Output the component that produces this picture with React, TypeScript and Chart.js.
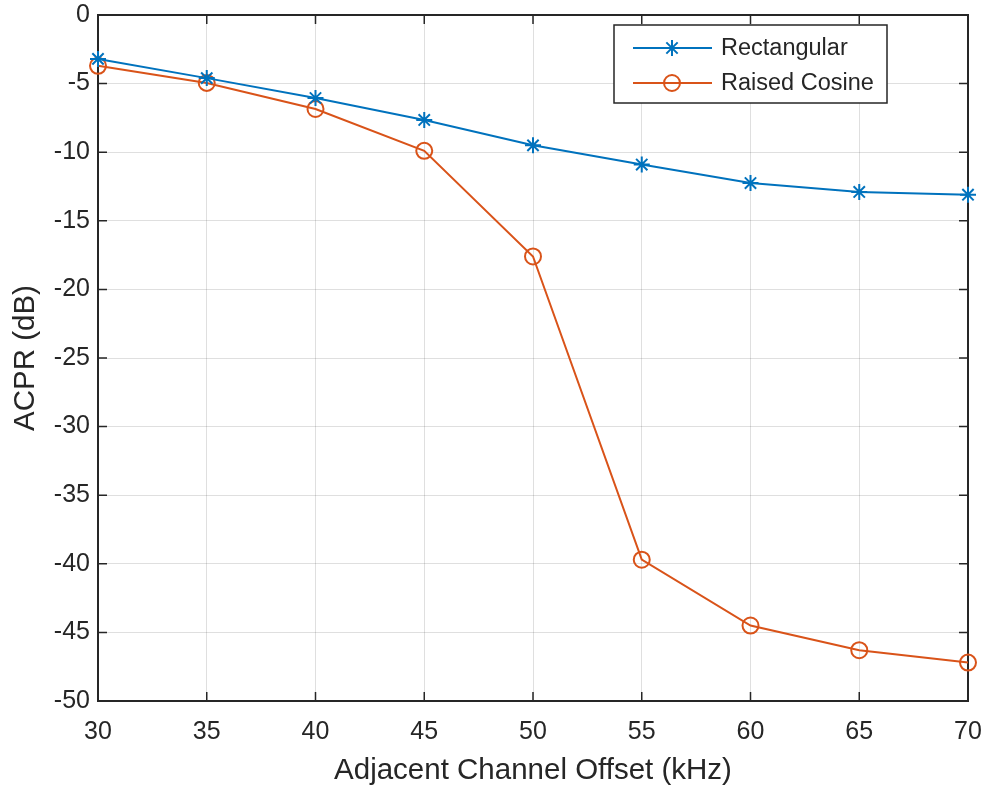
import React, { useEffect, useRef } from 'react';
import { Chart, registerables } from 'chart.js';

Chart.register(...registerables);

const offsetsKHz = [30, 35, 40, 45, 50, 55, 60, 65, 70];
const rectangular = [-3.2, -4.6, -6.05, -7.65, -9.5, -10.9, -12.25, -12.9, -13.1];
const raisedCosine = [-3.7, -4.95, -6.85, -9.9, -17.6, -39.7, -44.5, -46.3, -47.2];
const xTickValues = [30, 35, 40, 45, 50, 55, 60, 65, 70];
const yTickValues = [0, -5, -10, -15, -20, -25, -30, -35, -40, -45, -50];
const seriesNames = ['Rectangular', 'Raised Cosine'];
const xTitle = 'Adjacent Channel Offset (kHz)';
const yTitle = 'ACPR (dB)';

const BLUE = '#0072BD';
const ORANGE = '#D95319';
const AXIS = '#262626';
const FONT = '"Liberation Sans", Arial, Helvetica, sans-serif';

const boxPlugin = {
  id: 'matlabBox',
  beforeDatasetsDraw(chart: any) {
    const { ctx, chartArea } = chart;
    const { left, right, top, bottom } = chartArea;
    const xs = chart.scales.x;
    const ys = chart.scales.y;
    const tl = 9;
    ctx.save();
    ctx.strokeStyle = AXIS;
    ctx.lineWidth = 1.5;
    ctx.beginPath();
    for (const v of xTickValues) {
      const px = xs.getPixelForValue(v);
      ctx.moveTo(px, bottom);
      ctx.lineTo(px, bottom - tl);
      ctx.moveTo(px, top);
      ctx.lineTo(px, top + tl);
    }
    for (const v of yTickValues) {
      const py = ys.getPixelForValue(v);
      ctx.moveTo(left, py);
      ctx.lineTo(left + tl, py);
      ctx.moveTo(right, py);
      ctx.lineTo(right - tl, py);
    }
    ctx.stroke();
    ctx.lineWidth = 2;
    ctx.strokeRect(left, top, right - left, bottom - top);
    ctx.restore();
  },
};

function drawStar(ctx: CanvasRenderingContext2D, x: number, y: number, r: number) {
  ctx.beginPath();
  for (let i = 0; i < 4; i++) {
    const a = (i * Math.PI) / 4;
    ctx.moveTo(x + Math.cos(a) * r, y + Math.sin(a) * r);
    ctx.lineTo(x - Math.cos(a) * r, y - Math.sin(a) * r);
  }
  ctx.stroke();
}

const legendPlugin = {
  id: 'matlabLegend',
  afterDraw(chart: any) {
    const { ctx, chartArea } = chart;
    const bx = chartArea.right - 354;
    const by = chartArea.top + 10;
    const bw = 273;
    const bh = 78;
    ctx.save();
    ctx.fillStyle = '#ffffff';
    ctx.fillRect(bx, by, bw, bh);
    ctx.strokeStyle = AXIS;
    ctx.lineWidth = 1.5;
    ctx.strokeRect(bx, by, bw, bh);
    const rows = [by + 23, by + 58];
    const colors = [BLUE, ORANGE];
    rows.forEach((ry, i) => {
      ctx.strokeStyle = colors[i];
      ctx.lineWidth = 2;
      ctx.beginPath();
      ctx.moveTo(bx + 19, ry);
      ctx.lineTo(bx + 98, ry);
      ctx.stroke();
      const mx = bx + 58;
      if (i === 0) {
        drawStar(ctx, mx, ry, 8);
      } else {
        ctx.beginPath();
        ctx.arc(mx, ry, 8, 0, Math.PI * 2);
        ctx.stroke();
      }
      ctx.fillStyle = AXIS;
      ctx.font = `23.5px ${FONT}`;
      ctx.textBaseline = 'middle';
      ctx.textAlign = 'left';
      ctx.fillText(seriesNames[i], bx + 107, ry + 1);
    });
    ctx.restore();
  },
};

const zeroPadding = (s: any) => {
  s.paddingTop = 0;
  s.paddingBottom = 0;
  s.paddingLeft = 0;
  s.paddingRight = 0;
};

export default function App() {
  const ref = useRef<HTMLCanvasElement | null>(null);
  useEffect(() => {
    if (!ref.current) return;
    const chart = new Chart(ref.current, {
      type: 'line',
      data: {
        datasets: [
          {
            label: seriesNames[0],
            data: offsetsKHz.map((x, i) => ({ x, y: rectangular[i] })),
            borderColor: BLUE,
            backgroundColor: 'transparent',
            borderWidth: 2,
            pointStyle: 'star',
            pointRadius: 8,
            pointBorderWidth: 2,
            pointBorderColor: BLUE,
            pointBackgroundColor: 'transparent',
            tension: 0,
            clip: false as any,
          },
          {
            label: seriesNames[1],
            data: offsetsKHz.map((x, i) => ({ x, y: raisedCosine[i] })),
            borderColor: ORANGE,
            backgroundColor: 'transparent',
            borderWidth: 2,
            pointStyle: 'circle',
            pointRadius: 8,
            pointBorderWidth: 2,
            pointBorderColor: ORANGE,
            pointBackgroundColor: 'transparent',
            tension: 0,
            clip: false as any,
          },
        ],
      },
      options: {
        animation: false,
        responsive: false,
        maintainAspectRatio: false,
        layout: { padding: { left: 0, top: 15, right: 16, bottom: 0 } },
        plugins: {
          legend: { display: false },
          tooltip: { enabled: false },
        },
        scales: {
          x: {
            type: 'linear',
            min: 30,
            max: 70,
            afterBuildTicks: (s: any) => {
              s.ticks = xTickValues.map((v) => ({ value: v }));
            },
            afterFit: (s: any) => {
              s.height = 86;
              zeroPadding(s);
            },
            grid: { color: 'rgba(38,38,38,0.15)', lineWidth: 1, drawTicks: false },
            border: { display: false },
            ticks: {
              color: AXIS,
              font: { family: FONT, size: 25 },
              padding: 16,
              maxRotation: 0,
            },
            title: {
              display: true,
              text: xTitle,
              color: AXIS,
              font: { family: FONT, size: 29.5, lineHeight: 1.1 },
              padding: 0,
            },
          },
          y: {
            type: 'linear',
            min: -50,
            max: 0,
            afterBuildTicks: (s: any) => {
              s.ticks = yTickValues.map((v) => ({ value: v }));
            },
            afterFit: (s: any) => {
              s.width = 98;
              zeroPadding(s);
            },
            grid: { color: 'rgba(38,38,38,0.15)', lineWidth: 1, drawTicks: false },
            border: { display: false },
            ticks: {
              color: AXIS,
              font: { family: FONT, size: 25 },
              padding: 8,
            },
            title: {
              display: true,
              text: yTitle,
              color: AXIS,
              font: { family: FONT, size: 29.5, lineHeight: 1.1 },
              padding: { top: 10, bottom: 0 },
            },
          },
        },
      },
      plugins: [boxPlugin, legendPlugin],
    });
    return () => chart.destroy();
  }, []);

  return (
    <div style={{ position: 'fixed', left: 0, top: 0, width: 984, height: 787, background: '#fff' }}>
      <canvas ref={ref} width={984} height={787} />
    </div>
  );
}
